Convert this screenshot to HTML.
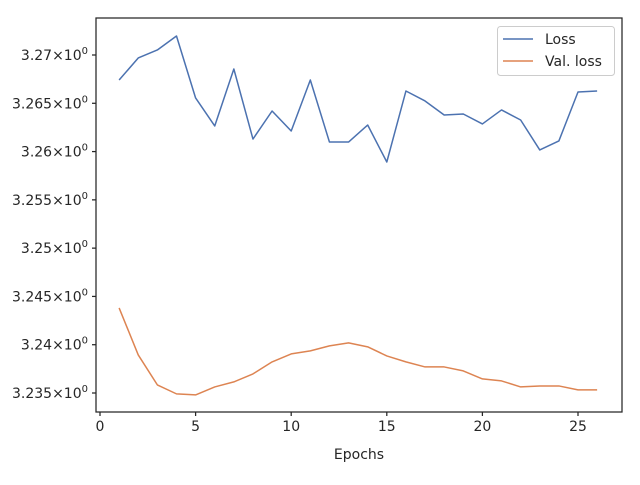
<!DOCTYPE html>
<html><head><meta charset="utf-8"><style>
body{margin:0;background:#fff;}
svg text{font-family:"DejaVu Sans","Liberation Sans",sans-serif;fill:#262626;}
</style></head><body>
<svg id="chart" width="640" height="480" viewBox="0 0 640 480" xmlns="http://www.w3.org/2000/svg">
<g id="plot"></g>
</svg>
<script>
const epochs=[1,2,3,4,5,6,7,8,9,10,11,12,13,14,15,16,17,18,19,20,21,22,23,24,25,26];
const lossValues=[3.26741,3.26969,3.27052,3.27197,3.26555,3.26265,3.26855,3.26130,3.26420,3.26213,3.26741,3.26099,3.26099,3.26275,3.25892,3.26627,3.26524,3.26379,3.26389,3.26286,3.26431,3.26327,3.26017,3.26110,3.26617,3.26627];
const valLossValues=[3.24381,3.23894,3.23584,3.23491,3.23480,3.23563,3.23615,3.23698,3.23822,3.23905,3.23936,3.23988,3.24019,3.23978,3.23884,3.23822,3.23770,3.23770,3.23729,3.23646,3.23625,3.23563,3.23573,3.23573,3.23532,3.23532];
const xTicks=[0,5,10,15,20,25];
const yTicks=[3.27,3.265,3.26,3.255,3.25,3.245,3.24,3.235];
const yTickLabels=["3.27","3.265","3.26","3.255","3.25","3.245","3.24","3.235"];

const L=96,R=622,T=18,B=412;
const xs=v=>100+v*(578-100)/25;
const ys=v=>55+(3.27-v)*(393-55)/0.035;
const NS="http://www.w3.org/2000/svg";
const g=document.getElementById('plot');
function mk(tag,attrs,parent){const e=document.createElementNS(NS,tag);for(const k in attrs)e.setAttribute(k,attrs[k]);(parent||g).appendChild(e);return e;}

function series(vals,color,name){
  const d=vals.map((v,i)=>(i?'L':'M')+xs(epochs[i]).toFixed(2)+' '+ys(v).toFixed(2)).join(' ');
  const p=mk('path',{d:d,fill:'none',stroke:color,'stroke-width':1.5,'stroke-linejoin':'round'});
  
  
}
series(lossValues,'#4c72b0','loss-line');
series(valLossValues,'#dd8452','val-loss-line');

const frame=mk('rect',{x:L,y:T,width:R-L,height:B-T,fill:'none',stroke:'#262626','stroke-width':1.25});



xTicks.forEach(t=>{
  const x=xs(t);
  const tk=mk('line',{x1:x,x2:x,y1:B,y2:B+4,stroke:'#262626','stroke-width':1.25});
  
  
  const lb=mk('text',{x:x,y:B+19,'text-anchor':'middle','font-size':14});
  lb.textContent=t;
  
  
});
yTicks.forEach((t,i)=>{
  const y=ys(t);
  const tk=mk('line',{x1:L-4,x2:L,y1:y,y2:y,stroke:'#262626','stroke-width':1.25});
  
  
  const lb=mk('text',{x:L-8,y:y+5,'text-anchor':'end','font-size':14});
  lb.textContent=yTickLabels[i]+'\u00d710';
  const s=mk('tspan',{dy:-6,'font-size':10},lb);s.textContent='0';
  
  
});
const xt=mk('text',{x:(L+R)/2,y:459,'text-anchor':'middle','font-size':14});
xt.textContent='Epochs';



const lg=mk('g',{});


mk('rect',{x:497.5,y:26.5,width:117,height:49,rx:3,fill:'#fff','fill-opacity':0.8,stroke:'#cccccc'},lg);
[['Loss','#4c72b0',39],['Val. loss','#dd8452',61]].forEach(([n,c,y])=>{
  const e=mk('g',{},lg);
  
  
  mk('line',{x1:503,x2:533,y1:y,y2:y,stroke:c,'stroke-width':1.5},e);
  const t=mk('text',{x:545,y:y+5,'font-size':14},e);t.textContent=n;
});
</script>
</body></html>
